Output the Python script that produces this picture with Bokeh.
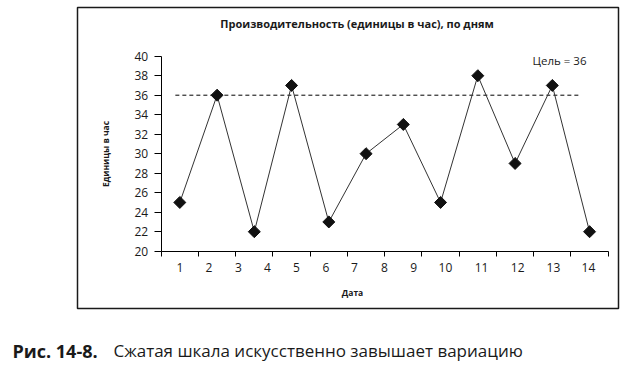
from bokeh.plotting import figure
from bokeh.models import (Range1d, FixedTicker, Label, BoxAnnotation, ColumnDataSource)
from bokeh.embed import file_html
from bokeh.resources import INLINE

# ---- data ----
days = [1, 2, 3, 4, 5, 6, 7, 8, 9, 10, 11, 12]
units_per_hour = [25, 36, 22, 37, 23, 30, 33, 25, 38, 29, 37, 22]
goal = 36
tick_labels = ["1", "2", "3", "4", "5", "6", "7", "8", "9", "10", "11", "12", "13", "14"]
y_ticks = [20, 22, 24, 26, 28, 30, 32, 34, 36, 38, 40]

# ---- layout helpers (positions, not data) ----
label_pos = [1.00, 1.78, 2.57, 3.35, 4.13, 4.92, 5.69, 6.49, 7.28, 8.13, 9.10, 10.07, 11.03, 11.97]
boundaries = [d - 0.5 for d in days] + [days[-1] + 0.5]
goal_x0, goal_x1 = 0.88, 11.73

FONT = "Open Sans"
INK = "#1a1a1a"

# canvas covers the whole window; axes are pinned inside the frame
p = figure(width=630, height=366, output_backend="svg", toolbar_location=None,
           title_location=None,
           x_range=Range1d(-3.8141, 13.0987), y_range=Range1d(8.1744, 45.7128),
           min_border=0, min_border_left=0, min_border_right=0,
           min_border_top=0, min_border_bottom=0)
p.grid.visible = False
p.outline_line_color = None
p.background_fill_color = "white"
p.border_fill_color = "white"

# x axis
xa = p.xaxis[0]
xa.fixed_location = 20
xa.bounds = (0.5, 12.5)
xa.ticker = FixedTicker(ticks=label_pos, minor_ticks=boundaries)
xa.major_label_overrides = {lp: t for lp, t in zip(label_pos, tick_labels)}
xa.major_tick_out = 0
xa.major_tick_in = 0
xa.minor_tick_out = 5
xa.minor_tick_in = 0
xa.minor_tick_line_color = "black"
xa.axis_line_color = "black"
xa.major_label_standoff = 7
xa.major_label_text_font = FONT
xa.major_label_text_font_size = "12px"
xa.major_label_text_color = INK

# y axis
ya = p.yaxis[0]
ya.fixed_location = 0.5
ya.bounds = (20, 40)
ya.ticker = FixedTicker(ticks=y_ticks)
ya.major_tick_out = 7
ya.major_tick_in = 0
ya.minor_tick_out = 0
ya.minor_tick_in = 0
ya.axis_line_color = "black"
ya.major_tick_line_color = "black"
ya.major_label_standoff = 6
ya.major_label_text_font = FONT
ya.major_label_text_font_size = "12px"
ya.major_label_text_color = INK
ya.axis_label = "Единицы в час"
ya.axis_label_text_font = FONT
ya.axis_label_text_font_size = "8.5px"
ya.axis_label_text_font_style = "bold"
ya.axis_label_text_color = INK
ya.axis_label_standoff = 21

# goal line
p.segment(x0=[goal_x0], y0=[goal], x1=[goal_x1], y1=[goal], line_color="black",
          line_width=1, line_dash="4 3")

src = ColumnDataSource(dict(day=days, val=units_per_hour))
p.line("day", "val", source=src, line_color="#333333", line_width=1)
p.scatter("day", "val", source=src, marker="square", angle=0.785398, size=8.5,
          fill_color="#111111", line_color="#111111")

# texts
def canvas_label(x, y, text, size, bold=False, align="left", baseline="middle"):
    p.add_layout(Label(x=x, y=y, x_units="canvas", y_units="canvas", text=text,
                       text_font=FONT, text_font_size=size,
                       text_font_style="bold" if bold else "normal",
                       text_align=align, text_baseline=baseline, text_color=INK))

canvas_label(356.5, 23, "Производительность (единицы в час), по дням", "11px", bold=True, align="center")
canvas_label(532, 60, "Цель = " + str(goal), "11.5px")
canvas_label(352, 292, "Дата", "8.5px", bold=True, align="center")
canvas_label(12, 350, "Рис. 14-8.", "18px", bold=True)
canvas_label(113, 350, "Сжатая шкала искусственно завышает вариацию", "17px")

# frame box around the chart
p.add_layout(BoxAnnotation(left=77, right=618, top=7, bottom=308,
                           left_units="canvas", right_units="canvas",
                           top_units="canvas", bottom_units="canvas",
                           fill_color=None, fill_alpha=0, line_color=INK,
                           line_width=1.5, line_alpha=1))

open("out.html", "w").write(file_html(p, INLINE))
